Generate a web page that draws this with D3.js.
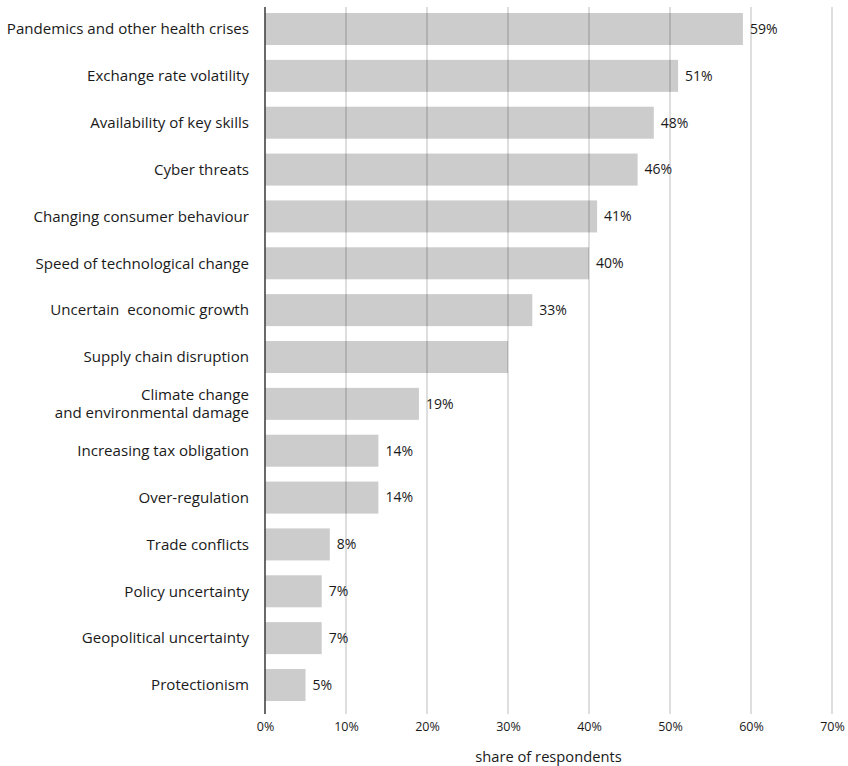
<!DOCTYPE html>
<html><head><meta charset="utf-8">
<script src="https://cdn.jsdelivr.net/npm/d3@7"></script>
<style>body{margin:0;background:#fff}svg{display:block}</style>
</head><body>
<script>
const categories = [
  "Pandemics and other health crises",
  "Exchange rate volatility",
  "Availability of key skills",
  "Cyber threats",
  "Changing consumer behaviour",
  "Speed of technological change",
  "Uncertain  economic growth",
  "Supply chain disruption",
  "Climate change\nand environmental damage",
  "Increasing tax obligation",
  "Over-regulation",
  "Trade conflicts",
  "Policy uncertainty",
  "Geopolitical uncertainty",
  "Protectionism"
];
const values = [59, 51, 48, 46, 41, 40, 33, 30, 19, 14, 14, 8, 7, 7, 5];
const valueLabels = ["59%","51%","48%","46%","41%","40%","33%","","19%","14%","14%","8%","7%","7%","5%"];
const tickValues = [0, 10, 20, 30, 40, 50, 60, 70];
const axisTitle = "share of respondents";

const W = 848, H = 766;
const font = "'Open Sans', sans-serif";
const svg = d3.select("body").append("svg").attr("width", W).attr("height", H)
  .style("font-family", font);

const x = d3.scaleLinear().domain([0, 70]).range([265, 832]);
const y = d3.scaleBand().domain(categories).range([13, 701]).paddingInner(0.317).paddingOuter(0);

// bars
svg.append("g").selectAll("rect").data(categories).join("rect")
  .attr("x", x(0)).attr("y", d => y(d))
  .attr("width", (d, i) => x(values[i]) - x(0))
  .attr("height", y.bandwidth())
  .attr("fill", "#cccccc");

// gridlines on top
svg.append("g").selectAll("line").data(tickValues.filter(t => t > 0)).join("line")
  .attr("x1", d => x(d)).attr("x2", d => x(d))
  .attr("y1", 7).attr("y2", 714)
  .attr("stroke", "rgba(0,0,0,0.2)").attr("stroke-width", 1.3);

// axis line
svg.append("line").attr("x1", x(0)).attr("x2", x(0)).attr("y1", 7).attr("y2", 714)
  .attr("stroke", "#444").attr("stroke-width", 1.6);

// tick labels via axis
const xAxis = d3.axisBottom(x).tickValues(tickValues).tickFormat(d => d + "%").tickSize(0).tickPadding(0);
const gx = svg.append("g").attr("transform", "translate(0,722)").call(xAxis);
gx.select(".domain").remove();
gx.selectAll("text").attr("font-size", 12.5).attr("fill", "#1a1a1a").style("font-family", font).attr("dy", "0.71em");

svg.append("text").attr("x", x(35)).attr("y", 762).attr("text-anchor", "middle")
  .attr("font-size", 14.7).attr("fill", "#1a1a1a").text(axisTitle);

// category labels
const lab = svg.append("g").selectAll("text").data(categories).join("text")
  .attr("x", 249).attr("text-anchor", "end")
  .attr("font-size", 15.1).attr("fill", "#1a1a1a").style("white-space", "pre");
lab.each(function(d) {
  const lines = d.split("\n");
  const t = d3.select(this);
  const cy = y(d) + y.bandwidth() / 2;
  lines.forEach((ln, k) => {
    t.append("tspan").attr("x", 249)
      .attr("y", cy + (k - (lines.length - 1) / 2) * 18)
      .attr("dy", "0.35em").text(ln);
  });
});

// value labels
svg.append("g").selectAll("text").data(categories).join("text")
  .attr("x", (d, i) => x(values[i]) + 7)
  .attr("y", d => y(d) + y.bandwidth() / 2)
  .attr("dy", "0.35em")
  .attr("font-size", 14).attr("fill", "#1a1a1a")
  .text((d, i) => valueLabels[i]);
</script>
</body></html>
